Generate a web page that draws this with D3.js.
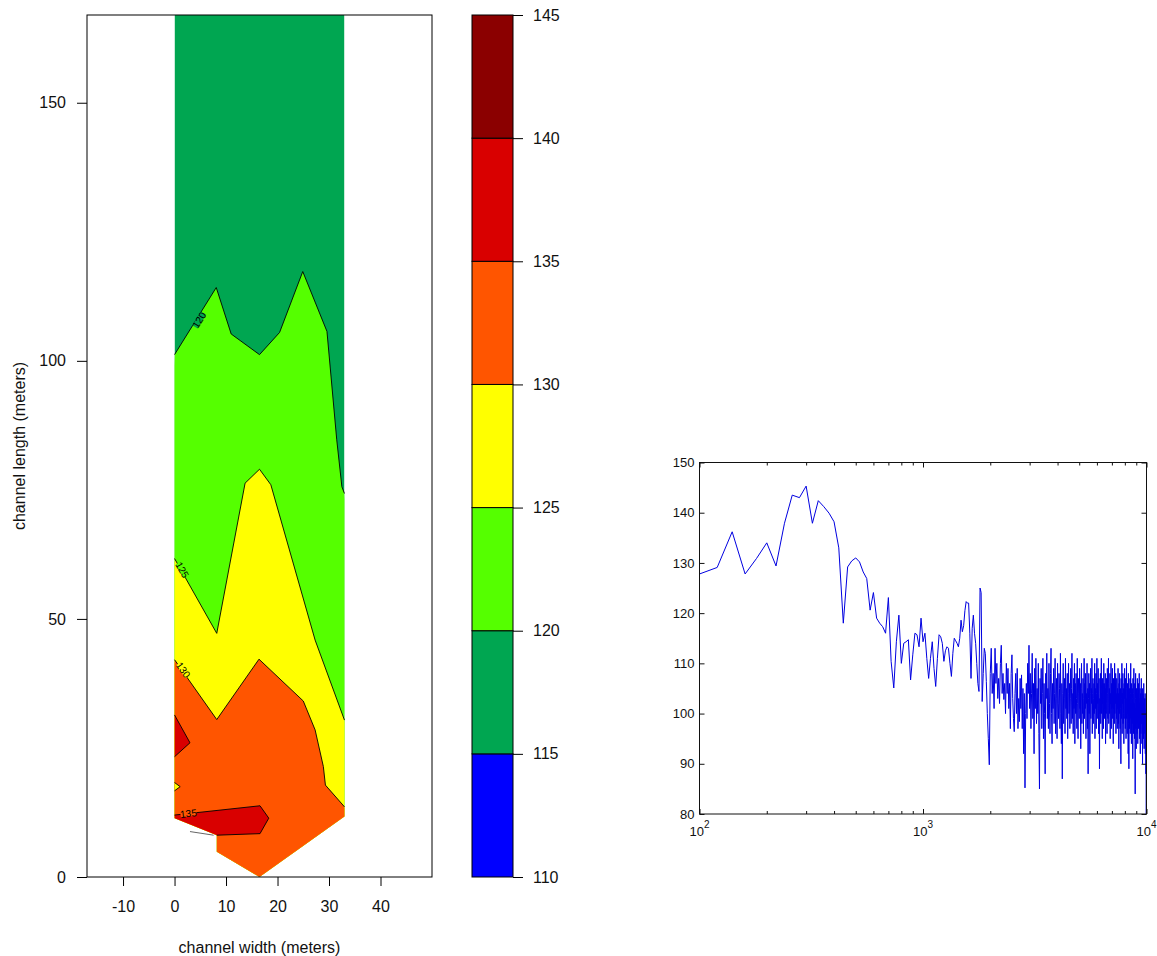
<!DOCTYPE html>
<html>
<head>
<meta charset="utf-8">
<script src="https://cdn.jsdelivr.net/npm/d3@7"></script>
<style>
  body { margin: 0; background: #fff; }
  svg { display: block; font-family: "Liberation Sans", Arial, sans-serif; }
</style>
</head>
<body>
<svg id="chart" width="1157" height="956"></svg>
<script>

/**
 * Data
 */

// contour levels and their fill colours (one colour per band)
const levels = [110, 115, 120, 125, 130, 135, 140, 145];
const levelColors = ['#0000ff', '#00a651', '#55ff00', '#ffff00', '#ff5500', '#d90000', '#8b0000'];

const widthTicks = [-10, 0, 10, 20, 30, 40];
const lengthTicks = [0, 50, 100, 150];

// outline of the measured area: [width m, length m]
const surveyOutline = [[0, 167], [33, 167], [33, 11.7], [16.5, 0], [8.2, 4.9], [8.2, 8.1], [0, 11.4]];

// contour lines: [width m, length m]
const contour120 = [[0, 101.2], [8.1, 114.2], [11, 105.2], [16.5, 101.2], [20.4, 105.5], [24.9, 117.3],
                    [29.6, 105.7], [31.5, 84.7], [32.5, 75.6], [33, 74.3]];
const contour125 = [[0, 61.7], [8.2, 47.2], [13.7, 76.3], [16.5, 79.0], [18.7, 76.0], [27.3, 45.9], [33, 30.4]];
const contour130 = [[0, 42.1], [8.2, 30.5], [16.4, 42.2], [25, 34.1], [27.3, 28.5], [28.9, 21.4],
                    [29.3, 17.8], [33, 13.6]];
const contour135 = [[0, 12.0], [16.6, 13.8], [18.3, 11.4], [16.6, 8.4], [8.2, 8.1]];
const contour135Tail = [[3, 8.8], [7.6, 8.1]];
const contour135Pocket = [[0, 31.4], [3, 26], [0, 23.3]];
const contour130Pocket = [[0, 18.3], [1.1, 17.5], [0, 16.7]];

// spectrum: first bin, bin spacing (Hz) and level per bin
const freqStart = 100;
const freqStep = 20;
const spectrumLevel = [
  // 100 - 1000
  127.8, 129.1, 136.2, 127.8, 130.9, 134.0, 129.4, 137.9, 143.5, 143.0,
  145.3, 137.9, 142.4, 141.2, 139.9, 138.2, 133.0, 118.0, 129.2, 130.4,
  131.0, 130.2, 128.2, 126.9, 120.6, 124.1, 119.0, 118.0, 117.3, 116.0,
  123.1, 110.4, 105.1, 114.3, 119.6, 110.0, 114.0, 114.3, 114.7, 106.7,
  111.7, 116.0, 115.7, 113.3, 119.0, 114.3,
  // 1020 - 2000
  116.0, 111, 107.0, 111, 114.3, 109, 105.4, 111, 115.7, 115.3,
  114, 110.4, 112.5, 113.3, 113.0, 110, 107.4, 112, 115.0, 114.5,
  114.0, 113.3, 115, 118.6, 116.3, 117.5, 120.5, 122.3, 122, 122.0,
  116, 107, 117, 119.6, 116, 114, 110, 106, 104.4, 125.0,
  124.1, 102.4, 108, 113, 112, 106.4, 100, 95, 89.8, 108,
  // 2020 - 3000
  113, 104, 108, 101, 113, 106, 110, 103, 107, 102,
  110, 113.6, 104, 108, 102.8, 106, 100, 110, 104, 109,
  101, 106, 97, 108, 111.7, 103, 99, 96.4, 104, 108,
  100, 109, 97, 103, 98.4, 107, 101, 107.7, 97, 105,
  92, 104, 85.2, 100, 106, 99, 110, 104, 113.6, 101,
  // 3020 - 10000
  108, 97, 104, 112, 99, 106, 92, 109, 101, 111,
  98, 105, 100, 110, 96, 85, 107, 102, 109, 97,
  104, 111, 95, 106, 100, 88, 108, 103, 112, 99,
  105, 97, 110, 102, 96, 108, 113, 100, 94, 106,
  101, 109, 98, 104, 111, 96, 103, 107, 95, 110,
  102, 99, 108, 105, 97, 112, 100, 94, 106, 87,
  104, 110, 98, 103, 107, 96, 111, 101, 105, 99,
  108, 95, 104, 110, 100, 106, 97, 103, 109, 98,
  105, 112, 99, 104, 96, 107, 101, 110, 94, 106,
  100, 108, 103, 97, 111, 102, 95, 107, 104, 99,
  109, 101, 106, 93, 105, 110, 98, 104, 100, 107,
  96, 103, 111, 99, 106, 101, 108, 95, 104, 102,
  110, 97, 105, 88, 103, 108, 100, 106, 92, 104,
  109, 99, 105, 102, 111, 96, 104, 107, 98, 103,
  106, 100, 110, 95, 105, 101, 108, 97, 104, 111,
  99, 106, 102, 109, 96, 104, 107, 89, 103, 100,
  108, 98, 105, 111, 100, 104, 95, 107, 102, 106,
  97, 110, 103, 99, 106, 101, 108, 94, 105, 100,
  107, 102, 96, 109, 104, 99, 106, 111, 98, 103,
  105, 100, 108, 95, 104, 102, 110, 97, 106, 101,
  103, 109, 99, 105, 94, 107, 101, 104, 98, 110,
  100, 106, 102, 108, 96, 104, 99, 107, 103, 97,
  105, 101, 109, 98, 104, 93, 106, 100, 108, 102,
  97, 105, 101, 90, 107, 103, 99, 110, 96, 104,
  102, 108, 98, 105, 100, 94, 106, 103, 109, 99,
  104, 97, 107, 101, 95, 105, 110, 99, 103, 96,
  106, 100, 104, 92, 108, 98, 89, 103, 105, 97,
  101, 107, 96, 104, 110, 99, 102, 94, 106, 100,
  98, 105, 103, 91, 107, 100, 96, 104, 109, 97,
  102, 95, 106, 99, 84, 103, 108, 97, 101, 93,
  105, 98, 102, 96, 107, 100, 94, 104, 99, 106,
  97, 103, 100, 108, 95, 102, 98, 105, 92, 101,
  104, 96, 100, 107, 98, 103, 94, 101, 105, 90,
  99, 104, 97, 102, 95, 106, 100, 93, 103, 98,
  101, 96, 104, 92, 100, 97, 88, 103, 80, 108
];
const levelTicks = [80, 90, 100, 110, 120, 130, 140, 150];
const freqMajor = [100, 1000, 10000];
const freqMinor = [200, 300, 400, 500, 600, 700, 800, 900, 2000, 3000, 4000, 5000, 6000, 7000, 8000, 9000];


/**
 * Setup
 */

const svg = d3.select('#chart');
const plain = d => String(d);   // hyphen minus, like the original

const box = { x0: 87, x1: 432, y0: 15, y1: 877 };
const x = d3.scaleLinear().domain([-17, 50]).range([box.x0, box.x1]);
const y = d3.scaleLinear().domain([0, 167]).range([box.y1, box.y0]);

const toPath = d3.line().x(d => x(d[0])).y(d => y(d[1]));
const toPolygon = d3.line().x(d => x(d[0])).y(d => y(d[1])).curve(d3.curveLinearClosed);

svg.append('clipPath')
   .attr('id', 'survey')
   .append('path')
   .attr('d', toPolygon(surveyOutline));

const contourLayer = svg.append('g').attr('clip-path', 'url(#survey)');

// Bands: paint the whole area, then the region below each line
contourLayer.append('path')
  .attr('d', toPolygon(surveyOutline))
  .attr('fill', levelColors[1]);

[[contour120, 2], [contour125, 3], [contour130, 4]].forEach(([pts, ci]) => {
  contourLayer.append('path')
    .attr('d', toPolygon(pts.concat([[40, -5], [-5, -5]])))
    .attr('fill', levelColors[ci]);
});

contourLayer.append('path')
  .attr('d', toPolygon(contour135.concat([[0, 11.4]])))
  .attr('fill', levelColors[5]);
contourLayer.append('path')
  .attr('d', toPolygon(contour135Pocket))
  .attr('fill', levelColors[5]);
contourLayer.append('path')
  .attr('d', toPolygon(contour130Pocket))
  .attr('fill', levelColors[3]);

// Contour lines
[contour120, contour125, contour130, contour135, contour135Pocket, contour130Pocket].forEach(pts => {
  svg.append('path')
    .attr('d', toPath(pts))
    .attr('fill', 'none')
    .attr('stroke', '#000')
    .attr('stroke-width', 0.9);
});
svg.append('path')
  .attr('d', toPath(contour135Tail))
  .attr('fill', 'none')
  .attr('stroke', '#666')
  .attr('stroke-width', 1);

// Contour labels
const contourLabels = [
  { text: '120', at: [4.8, 107.9], angle: -58, bg: levelColors[1] },
  { text: '125', at: [1.5, 59.5], angle: 60, bg: levelColors[2] },
  { text: '130', at: [1.7, 40.1], angle: 54, bg: levelColors[3] },
  { text: '135', at: [2.7, 12.3], angle: -7, bg: levelColors[4] },
];
contourLabels.forEach(l => {
  const g = svg.append('g')
    .attr('transform', `translate(${x(l.at[0])},${y(l.at[1])}) rotate(${l.angle})`);
  g.append('rect')
    .attr('x', -8).attr('y', -3).attr('width', 16).attr('height', 6)
    .attr('fill', l.bg);
  g.append('text')
    .attr('text-anchor', 'middle')
    .attr('dy', '0.35em')
    .attr('font-size', 10)
    .attr('fill', '#000')
    .text(l.text);
});

// Frame and axes
svg.append('rect')
  .attr('x', box.x0).attr('y', box.y0)
  .attr('width', box.x1 - box.x0).attr('height', box.y1 - box.y0)
  .attr('fill', 'none').attr('stroke', '#000');

const leftAxis = svg.append('g')
  .attr('transform', `translate(${box.x0},0)`)
  .call(d3.axisLeft(y).tickValues(lengthTicks).tickFormat(plain).tickSize(10).tickPadding(11));
const bottomAxis = svg.append('g')
  .attr('transform', `translate(0,${box.y1})`)
  .call(d3.axisBottom(x).tickValues(widthTicks).tickFormat(plain).tickSize(9).tickPadding(15));
[leftAxis, bottomAxis].forEach(a => {
  a.select('.domain').remove();
  a.selectAll('text').attr('font-size', 16).attr('font-family', null).attr('fill', '#111');
  a.selectAll('line').attr('stroke', '#000');
});

svg.append('text')
  .attr('x', (box.x0 + box.x1) / 2).attr('y', 953)
  .attr('text-anchor', 'middle')
  .attr('font-size', 16)
  .attr('fill', '#111')
  .text('channel width (meters)');

svg.append('text')
  .attr('transform', `translate(25,446) rotate(-90)`)
  .attr('text-anchor', 'middle')
  .attr('font-size', 16)
  .attr('fill', '#111')
  .text('channel length (meters)');


// Colour key
const key = { x0: 472, x1: 513 };
const ky = d3.scaleLinear().domain([110, 145]).range([box.y1, box.y0]);

svg.append('g')
  .selectAll('rect')
  .data(d3.pairs(levels))
  .enter()
  .append('rect')
  .attr('x', key.x0)
  .attr('y', d => ky(d[1]))
  .attr('width', key.x1 - key.x0)
  .attr('height', d => ky(d[0]) - ky(d[1]))
  .attr('fill', (d, i) => levelColors[i])
  .attr('stroke', '#000')
  .attr('stroke-width', 1);

const keyAxis = svg.append('g')
  .attr('transform', `translate(${key.x1},0)`)
  .call(d3.axisRight(ky).tickValues(levels).tickFormat(plain).tickSize(10).tickPadding(10));
keyAxis.select('.domain').remove();
keyAxis.selectAll('text').attr('font-size', 16).attr('font-family', null).attr('fill', '#111');
keyAxis.selectAll('line').attr('stroke', '#000');


/**
 * Right panel: spectrum
 */

const rbox = { x0: 699.5, x1: 1146.5, y0: 462.5, y1: 814 };
const rx = d3.scaleLog().domain([100, 10000]).range([rbox.x0, rbox.x1]);
const ry = d3.scaleLinear().domain([80, 150]).range([rbox.y1, rbox.y0]);

const spectrum = spectrumLevel.map((v, i) => ({ f: freqStart + i * freqStep, v }));

svg.append('clipPath')
   .attr('id', 'rclip')
   .append('rect')
   .attr('x', rbox.x0).attr('y', rbox.y0 - 1)
   .attr('width', rbox.x1 - rbox.x0).attr('height', rbox.y1 - rbox.y0 + 2);

svg.append('path')
  .datum(spectrum)
  .attr('clip-path', 'url(#rclip)')
  .attr('d', d3.line().x(d => rx(d.f)).y(d => ry(d.v)))
  .attr('fill', 'none')
  .attr('stroke', '#0000e0')
  .attr('stroke-width', 1);

svg.append('rect')
  .attr('x', rbox.x0).attr('y', rbox.y0)
  .attr('width', rbox.x1 - rbox.x0).attr('height', rbox.y1 - rbox.y0)
  .attr('fill', 'none').attr('stroke', '#111');

const rAxes = [
  svg.append('g').attr('transform', `translate(${rbox.x0},0)`)
     .call(d3.axisLeft(ry).tickValues(levelTicks).tickFormat(plain).tickSize(-5).tickPadding(5)),
  svg.append('g').attr('transform', `translate(${rbox.x1},0)`)
     .call(d3.axisRight(ry).tickValues(levelTicks).tickSize(-5).tickFormat('')),
  svg.append('g').attr('transform', `translate(0,${rbox.y1})`)
     .call(d3.axisBottom(rx).tickValues(freqMajor).tickSize(-5).tickFormat('')),
  svg.append('g').attr('transform', `translate(0,${rbox.y0})`)
     .call(d3.axisTop(rx).tickValues(freqMajor).tickSize(-5).tickFormat('')),
  svg.append('g').attr('transform', `translate(0,${rbox.y1})`)
     .call(d3.axisBottom(rx).tickValues(freqMinor).tickSize(-3).tickFormat('')),
  svg.append('g').attr('transform', `translate(0,${rbox.y0})`)
     .call(d3.axisTop(rx).tickValues(freqMinor).tickSize(-3).tickFormat('')),
];
rAxes.forEach(a => {
  a.select('.domain').remove();
  a.selectAll('line').attr('stroke', '#111');
  a.selectAll('text').attr('font-size', 13).attr('font-family', null).attr('fill', '#111');
});

// log labels: 10 with a raised exponent
const expLabels = svg.append('g')
  .selectAll('text')
  .data(freqMajor)
  .enter()
  .append('text')
  .attr('x', d => rx(d))
  .attr('y', 836)
  .attr('text-anchor', 'middle')
  .attr('font-size', 13)
  .attr('fill', '#111');
expLabels.append('tspan').text('10');
expLabels.append('tspan')
  .attr('dy', -8)
  .attr('font-size', 10)
  .text(d => Math.round(Math.log10(d)));

</script>
</body>
</html>
